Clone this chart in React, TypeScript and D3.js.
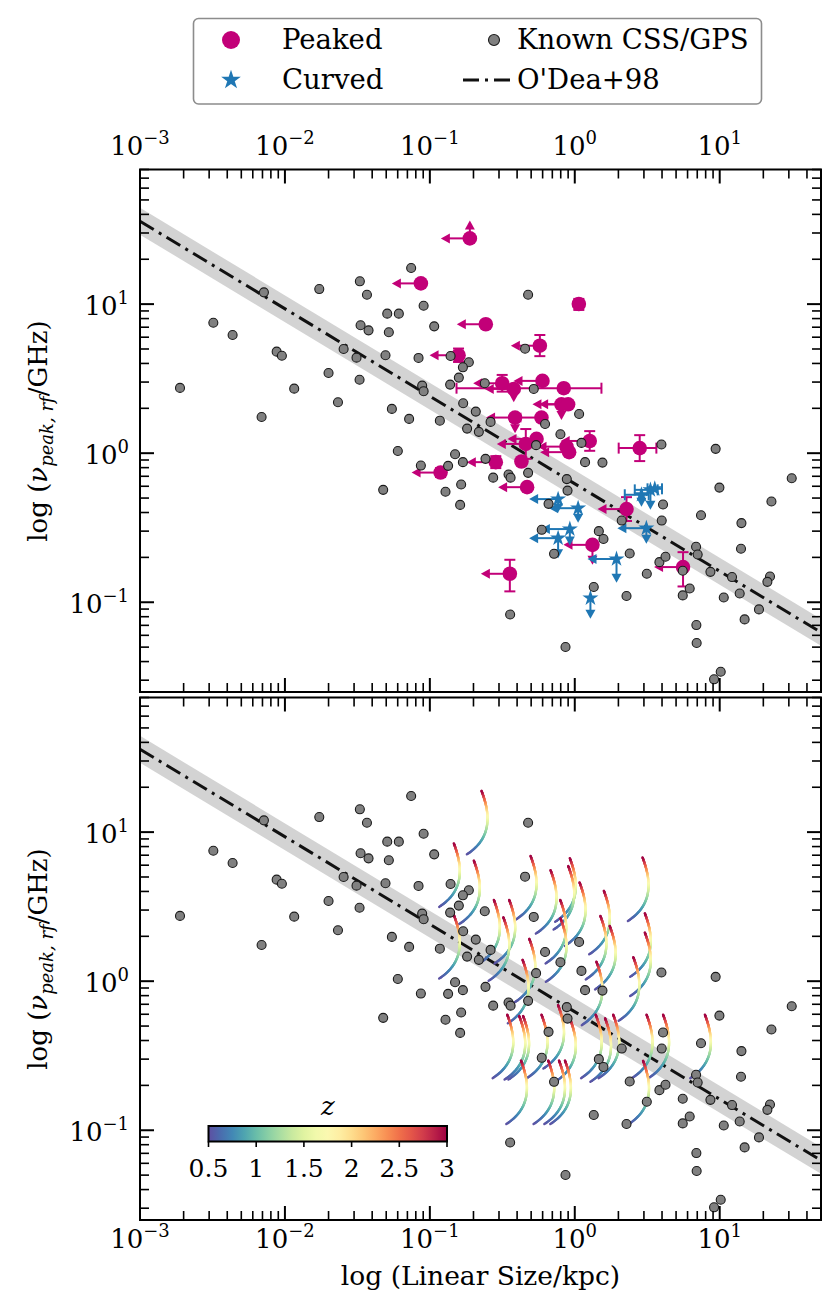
import React from 'react';
import * as d3 from 'd3';

// All positions are log10 values:
// log10(linear size / kpc) and log10(rest-frame peak frequency / GHz)

// Known CSS/GPS sources (same set in both panels)
const knownLogSize = [
  -2.724, -2.494, -2.361, -2.145, -2.161, -2.057, -2.021, -1.936, -1.763, -1.699,
  -1.634, -1.595, -1.506, -1.485, -1.483, -1.434, -1.478, -1.423, -1.306, -1.294,
  -1.214, -1.283, -1.129, -1.043, -0.97, -1.078, -1.262, -1.143, -1.053, -1.043,
  -1.221, -1.062, -1.322, -0.931, -0.857, -0.731, -0.772, -0.8, -0.86, -0.77,
  -0.683, -0.743, -0.662, -0.826, -0.874, -0.772, -0.784, -0.892, -0.791,
  -0.322, -0.343, -0.621, -0.283, -0.581, -0.205, 0.03, -0.099, -0.267, 0.046,
  -0.616, 0.071, 0.191, 0.598, 0.972, -0.563, -0.457, -0.443, -0.322, -0.055,
  -0.05, 1.497, 0.998, -0.181, 0.609, 0.871, 1.357, 0.324, 0.6, 1.15,
  -0.228, 0.166, 0.198, -0.143, 0.379, 0.837, 0.848, 1.147, 0.584, 0.626,
  0.497, 0.745, 0.936, 1.085, 1.347, 1.329, 0.131, 0.357, 0.745, 0.793,
  1.028, 1.138, 1.271, 1.172, -0.446, 0.839, 0.841, -0.064, 1.007, 0.961,
];
const knownLogFreq = [
  0.438, 0.875, 0.793, 1.079, 0.243, 0.681, 0.654, 0.433, 1.101, 0.538,
  0.342, 0.699, 0.641, 0.493, 1.153, 1.063, 0.858, 0.824, 0.657, 0.936,
  0.936, 0.811, 1.242, 0.989, 0.851, 0.639, 0.297, 0.23, 0.453, 0.416,
  0.015, -0.083, -0.246, 0.218, 0.652, 0.61, 0.576, 0.507, 0.46, 0.335,
  0.279, 0.165, 0.143, -0.007, -0.085, -0.06, -0.21, -0.259, -0.347,
  1.063, 0.701, 0.469, 0.431, 0.21, 0.196, 0.263, 0.127, 0.054, 0.069,
  -0.038, -0.06, -0.063, 0.058, 0.029, -0.164, -0.143, -0.164, -0.132, -0.174,
  -0.251, -0.168, -0.231, -0.34, -0.344, -0.416, -0.324, -0.452, -0.452, -0.469,
  -0.514, -0.523, -0.576, -0.675, -0.673, -0.628, -0.68, -0.641, -0.731, -0.695,
  -0.809, -0.789, -0.796, -0.831, -0.827, -0.863, -0.898, -0.958, -0.954, -0.908,
  -0.968, -0.941, -1.048, -1.115, -1.082, -1.153, -1.273, -1.3, -1.466, -1.517,
];

// Peaked sources
const peakedLogSize = [
  -0.724, -1.062, 0.028, -0.614, -0.241, -0.802, -0.501, -0.223, -0.076, -0.421,
  -0.092, -0.046, -0.412, -0.23, 0.103, 0.448, -0.264, -0.338, -0.057, -0.039,
  -0.368, -0.545, -0.926, -0.329, 0.357, 0.122, -0.448, 0.747,
];
const peakedLogFreq = [
  1.441, 1.139, 1.001, 0.865, 0.721, 0.657, 0.469, 0.485, 0.436, 0.431,
  0.328, 0.328, 0.239, 0.239, 0.082, 0.034, 0.096, 0.062, 0.044, 0.007,
  -0.056, -0.06, -0.13, -0.228, -0.375, -0.615, -0.809, -0.764,
];
// 1 = size is an upper limit (arrow to the left)
const peakedSizeLimit = [1, 1, 0, 1, 1, 1, 1, 1, 0, 1, 1, 1, 1, 1, 1, 0, 1, 1, 1, 1, 0, 1, 1, 1, 1, 1, 1, 1];
// frequency limit arrows in dex: > 0 lower limit (up), < 0 upper limit (down)
const peakedFreqArrow = [0.12, 0, 0, 0, 0, 0, 0, 0, 0, -0.09, -0.105, 0, -0.105, 0, 0, 0, 0, 0, 0, 0, 0, 0, 0, 0, 0, -0.134, 0, 0];
// [below, above] errors in dex
const peakedFreqErr: (number[] | null)[] = [
  null, null, [0.04, 0.034], null, [0.07, 0.072], [0.045, 0.045], [0.056, 0.056], null, null, null,
  null, null, null, null, [0.066, 0.066], [0.087, 0.087], null, [0.1, 0.1], null, null,
  null, [0.04, 0.04], [0.03, 0.03], null, [0.08, 0.08], null, [0.118, 0.094], [0.13, 0.1],
];
const peakedSizeErr: (number[] | null)[] = [
  null, null, null, null, null, null, null, null, [0.74, 0.26], null,
  null, null, null, null, null, [0.145, 0.115], null, null, null, null,
  null, null, null, null, null, null, null, null,
];

// Curved sources
const curvedLogSize = [-0.115, 0.023, -0.034, -0.115, 0.494, 0.288, 0.108, 0.46, 0.522, 0.552];
const curvedLogFreq = [-0.308, -0.369, -0.509, -0.57, -0.503, -0.71, -0.972, -0.279, -0.246, -0.239];
const curvedSizeLimit = [1, 1, 1, 1, 1, 1, 0, 0, 0, 0];
const curvedFreqArrow = [-0.09, -0.097, -0.11, -0.134, -0.105, -0.16, -0.139, -0.08, -0.134, 0];
const curvedSizeErr: (number[] | null)[] = [null, null, null, null, null, null, null, [0.115, 0.05], [0.108, 0.05], [0.05, 0.05]];

// Redshift tracks (bottom panel): angular size (mas) and observed peak frequency (GHz)
const trackTheta = [
  29.5, 26.1, 19.0, 19.0, 64.3, 120, 117, 88.3, 140, 206, 381, 35.9, 45.8, 41.7,
  103, 195, 226, 395, 395, 63, 56.6, 329, 183, 99.5, 44.4, 53.7, 57.1, 76.5, 120,
  181, 210, 239, 406, 528, 1026, 55.2, 85.1, 101, 111, 384, 103.5,
];
const trackNuObs = [
  4.73, 1.61, 2.1, 0.695, 1.73, 1.67, 1.48, 1.39, 1.15, 1.01, 1.69, 0.877, 0.877, 0.671,
  0.877, 0.685, 0.587, 0.714, 0.53, 0.481, 0.348, 0.362, 0.338, 0.173, 0.149, 0.146, 0.146, 0.149, 0.141,
  0.149, 0.141, 0.149, 0.149, 0.149, 0.149, 0.0734, 0.0734, 0.0734, 0.0734, 0.0731, 0.66,
];

const colorbarTicks = [0.5, 1, 1.5, 2, 2.5, 3];

// O'Dea+98 relation as drawn: log nu = a + b log LS, band half-width in dex
const odeaA = -0.205;
const odeaB = -0.587;
const odeaBand = 0.09;

const MAGENTA = '#c20078';
const BLUE = '#1f77b4';
const FONT = 'DejaVu Serif';
const DASH = '16,6,3,6';

const X_DOMAIN: [number, number] = [1e-3, 50];
const Y_DOMAIN: [number, number] = [0.025, 80];
const LEFT = 140;
const RIGHT = 821;

const x = d3.scaleLog().domain(X_DOMAIN).range([LEFT, RIGHT]);
const yTop = d3.scaleLog().domain(Y_DOMAIN).range([692, 169.5]);
const yBot = d3.scaleLog().domain(Y_DOMAIN).range([1220, 697.5]);

const zColor = d3.scaleSequential((t: number) => d3.interpolateSpectral(1 - t)).domain([0.5, 3]);

// flat LCDM, H0 = 70, Om = 0.3
const angDistMpc = (z: number) => {
  const n = 200;
  let s = 0;
  for (let i = 0; i <= n; i++) {
    const zi = (z * i) / n;
    const f = 1 / Math.sqrt(0.3 * (1 + zi) ** 3 + 0.7);
    s += (i === 0 || i === n ? 1 : i % 2 ? 4 : 2) * f;
  }
  return ((299792.458 / 70) * ((s * z) / (3 * n))) / (1 + z);
};
const kpcPerMas = (z: number) => (angDistMpc(z) * 1000 * Math.PI) / (180 * 3600 * 1000);

const logTicks = (lo: number, hi: number) => {
  const major: number[] = [];
  const minor: number[] = [];
  for (let e = Math.floor(Math.log10(lo)); e <= Math.ceil(Math.log10(hi)); e++) {
    for (let m = 1; m < 10; m++) {
      const v = m * Math.pow(10, e);
      if (v < lo * 0.999 || v > hi * 1.001) continue;
      (m === 1 ? major : minor).push(v);
    }
  }
  return { major, minor };
};

const sup = (v: number) => {
  const e = Math.round(Math.log10(v));
  return e < 0 ? `\u2212${-e}` : `${e}`;
};

type Pt = {
  lx: number;
  ly: number;
  sizeLim: number;
  freqArrow: number;
  freqErr: number[] | null;
  sizeErr: number[] | null;
};

const peaked: Pt[] = peakedLogSize.map((lx, i) => ({
  lx,
  ly: peakedLogFreq[i],
  sizeLim: peakedSizeLimit[i],
  freqArrow: peakedFreqArrow[i],
  freqErr: peakedFreqErr[i],
  sizeErr: peakedSizeErr[i],
}));

const curved: Pt[] = curvedLogSize.map((lx, i) => ({
  lx,
  ly: curvedLogFreq[i],
  sizeLim: curvedSizeLimit[i],
  freqArrow: curvedFreqArrow[i],
  freqErr: null,
  sizeErr: curvedSizeErr[i],
}));

const CAP = 5.5;

function errorMarks(p: Pt, y: d3.ScaleLogarithmic<number, number>, color: string, key: string) {
  const cx = x(10 ** p.lx);
  const cy = y(10 ** p.ly);
  const els: React.ReactNode[] = [];
  if (p.sizeErr) {
    const xa = x(10 ** (p.lx - p.sizeErr[0]));
    const xb = x(10 ** (p.lx + p.sizeErr[1]));
    els.push(<line key="xe" x1={xa} x2={xb} y1={cy} y2={cy} />);
    els.push(<line key="xc1" x1={xa} x2={xa} y1={cy - CAP} y2={cy + CAP} />);
    els.push(<line key="xc2" x1={xb} x2={xb} y1={cy - CAP} y2={cy + CAP} />);
  }
  if (p.freqErr) {
    const ya = y(10 ** (p.ly - p.freqErr[0]));
    const yb = y(10 ** (p.ly + p.freqErr[1]));
    els.push(<line key="ye" x1={cx} x2={cx} y1={ya} y2={yb} />);
    els.push(<line key="yc1" x1={cx - CAP} x2={cx + CAP} y1={ya} y2={ya} />);
    els.push(<line key="yc2" x1={cx - CAP} x2={cx + CAP} y1={yb} y2={yb} />);
  }
  if (p.sizeLim) {
    const xt = x(10 ** (p.lx - 0.2));
    els.push(<line key="xl" x1={cx} x2={xt + 3} y1={cy} y2={cy} />);
    els.push(<path key="xa" d={`M${xt},${cy}L${xt + 9},${cy - 5}L${xt + 9},${cy + 5}Z`} fill={color} stroke="none" />);
  }
  if (p.freqArrow) {
    const yt = y(10 ** (p.ly + p.freqArrow));
    const dir = p.freqArrow > 0 ? -1 : 1;
    els.push(<line key="yl" x1={cx} x2={cx} y1={cy} y2={yt - dir * 3} />);
    els.push(
      <path key="ya" d={`M${cx},${yt}L${cx - 5},${yt - dir * 9}L${cx + 5},${yt - dir * 9}Z`} fill={color} stroke="none" />
    );
  }
  return (
    <g key={key} stroke={color} strokeWidth={2} fill="none">
      {els}
    </g>
  );
}

const starPath = (size: number) => d3.symbol().type(d3.symbolStar).size(size)() as string;

function Frame({ y, labelTop, labelBottom }: { y: d3.ScaleLogarithmic<number, number>; labelTop: boolean; labelBottom: boolean }) {
  const [yb, yt] = y.range();
  const xt = logTicks(X_DOMAIN[0], X_DOMAIN[1]);
  const ytk = logTicks(Y_DOMAIN[0], Y_DOMAIN[1]);
  const MAJ = 14;
  const MIN = 9;
  return (
    <g stroke="#000">
      {xt.major.map((v) => (
        <g key={`xM${v}`} strokeWidth={2}>
          <line x1={x(v)} x2={x(v)} y1={yt} y2={yt + MAJ} />
          <line x1={x(v)} x2={x(v)} y1={yb} y2={yb - MAJ} />
        </g>
      ))}
      {xt.minor.map((v) => (
        <g key={`xm${v}`} strokeWidth={1.6}>
          <line x1={x(v)} x2={x(v)} y1={yt} y2={yt + MIN} />
          <line x1={x(v)} x2={x(v)} y1={yb} y2={yb - MIN} />
        </g>
      ))}
      {ytk.major.map((v) => (
        <g key={`yM${v}`} strokeWidth={2}>
          <line x1={LEFT} x2={LEFT + MAJ} y1={y(v)} y2={y(v)} />
          <line x1={RIGHT} x2={RIGHT - MAJ} y1={y(v)} y2={y(v)} />
        </g>
      ))}
      {ytk.minor.map((v) => (
        <g key={`ym${v}`} strokeWidth={1.6}>
          <line x1={LEFT} x2={LEFT + MIN} y1={y(v)} y2={y(v)} />
          <line x1={RIGHT} x2={RIGHT - MIN} y1={y(v)} y2={y(v)} />
        </g>
      ))}
      <rect x={LEFT} y={yt} width={RIGHT - LEFT} height={yb - yt} fill="none" strokeWidth={2} />
      <g stroke="none" fill="#000" fontFamily={FONT} fontSize={26}>
        {ytk.major.map((v) => (
          <text key={`yl${v}`} x={129} y={y(v) + 11} textAnchor="end">
            <tspan>10</tspan>
            <tspan dy={-11} fontSize={18}>
              {sup(v)}
            </tspan>
          </text>
        ))}
        {labelTop &&
          xt.major.map((v) => (
            <text key={`xt${v}`} x={x(v)} y={155} textAnchor="middle">
              <tspan>10</tspan>
              <tspan dy={-11} fontSize={18}>
                {sup(v)}
              </tspan>
            </text>
          ))}
        {labelBottom &&
          xt.major.map((v) => (
            <text key={`xb${v}`} x={x(v)} y={1248} textAnchor="middle">
              <tspan>10</tspan>
              <tspan dy={-11} fontSize={18}>
                {sup(v)}
              </tspan>
            </text>
          ))}
      </g>
    </g>
  );
}

function Relation({ y, clip }: { y: d3.ScaleLogarithmic<number, number>; clip: string }) {
  const xs = [X_DOMAIN[0], X_DOMAIN[1]];
  const f = (v: number, off: number) => y(10 ** (odeaA + odeaB * Math.log10(v) + off));
  const area = d3
    .area<number>()
    .x((v) => x(v))
    .y0((v) => f(v, -odeaBand))
    .y1((v) => f(v, odeaBand));
  const line = d3
    .line<number>()
    .x((v) => x(v))
    .y((v) => f(v, 0));
  return (
    <g clipPath={`url(#${clip})`}>
      <path d={area(xs) as string} fill="#d3d3d3" />
      <path d={line(xs) as string} fill="none" stroke="#111" strokeWidth={3} strokeDasharray={DASH} />
    </g>
  );
}

function KnownDots({ y }: { y: d3.ScaleLogarithmic<number, number> }) {
  return (
    <g fill="#808080" stroke="#1a1a1a" strokeWidth={1.1}>
      {knownLogSize.map((lx, i) => (
        <circle key={i} cx={x(10 ** lx)} cy={y(10 ** knownLogFreq[i])} r={4.5} />
      ))}
    </g>
  );
}

function Tracks() {
  const zs = d3.range(0.5, 3.0001, 0.025);
  const segs: React.ReactNode[] = [];
  const scale = zs.map((z) => kpcPerMas(z));
  trackTheta.forEach((th, k) => {
    const pts = zs.map((z, i) => [x(th * scale[i]), yBot(trackNuObs[k] * (1 + z))]);
    for (let i = 0; i < pts.length - 1; i++) {
      segs.push(
        <line
          key={`${k}-${i}`}
          x1={pts[i][0]}
          y1={pts[i][1]}
          x2={pts[i + 1][0]}
          y2={pts[i + 1][1]}
          stroke={zColor((zs[i] + zs[i + 1]) / 2)}
          strokeWidth={2.4}
          strokeLinecap="round"
        />
      );
    }
  });
  return <g>{segs}</g>;
}

function Colorbar() {
  const cb = d3.scaleLinear().domain([0.5, 3]).range([208.5, 447]);
  const stops = d3.range(0, 1.0001, 0.05);
  return (
    <g>
      <defs>
        <linearGradient id="cbar" x1="0" x2="1" y1="0" y2="0">
          {stops.map((t) => (
            <stop key={t} offset={t} stopColor={d3.interpolateSpectral(1 - t)} />
          ))}
        </linearGradient>
      </defs>
      <rect x={208.5} y={1126} width={447 - 208.5} height={15.5} fill="url(#cbar)" stroke="#000" strokeWidth={2} />
      {colorbarTicks.map((t) => (
        <g key={t}>
          <line x1={cb(t)} x2={cb(t)} y1={1141.5} y2={1147} stroke="#000" strokeWidth={1.6} />
          <text x={cb(t)} y={1177} textAnchor="middle" fontFamily={FONT} fontSize={25}>
            {t}
          </text>
        </g>
      ))}
      <text x={cb(1.75)} y={1115} textAnchor="middle" fontFamily={FONT} fontStyle="italic" fontSize={26}>
        z
      </text>
    </g>
  );
}

function YLabel({ cy }: { cy: number }) {
  return (
    <text transform={`translate(47,${cy}) rotate(-90)`} textAnchor="middle" fontFamily={FONT} fontSize={26}>
      <tspan>log (</tspan>
      <tspan fontStyle="italic">ν</tspan>
      <tspan fontStyle="italic" fontSize={18} dy={6}>
        peak, rf
      </tspan>
      <tspan dy={-6}>/GHz)</tspan>
    </text>
  );
}

function Legend() {
  return (
    <g fontFamily={FONT} fontSize={27.5}>
      <rect x={193.5} y={18.5} width={568} height={85.5} rx={5} fill="#fff" stroke="#8c8c8c" strokeWidth={1.6} />
      <circle cx={231} cy={40} r={9} fill={MAGENTA} />
      <text x={282} y={49}>Peaked</text>
      <path d={starPath(120)} transform="translate(231,80)" fill={BLUE} />
      <text x={282} y={89}>Curved</text>
      <circle cx={494} cy={40} r={5.5} fill="#808080" stroke="#1a1a1a" strokeWidth={1.1} />
      <text x={517} y={49}>Known CSS/GPS</text>
      <line x1={463} x2={510} y1={80} y2={80} stroke="#111" strokeWidth={3} strokeDasharray={DASH} />
      <text x={517} y={89}>O'Dea+98</text>
    </g>
  );
}

export default function App() {
  return (
    <svg width={830} height={1312} style={{ position: 'absolute', left: 0, top: 0, background: '#fff' }}>
      <defs>
        <clipPath id="clipTop">
          <rect x={LEFT} y={169.5} width={RIGHT - LEFT} height={692 - 169.5} />
        </clipPath>
        <clipPath id="clipBot">
          <rect x={LEFT} y={697.5} width={RIGHT - LEFT} height={1220 - 697.5} />
        </clipPath>
      </defs>
      <rect width={830} height={1312} fill="#fff" />

      {/* top panel */}
      <Relation y={yTop} clip="clipTop" />
      <g>{peaked.map((p, i) => errorMarks(p, yTop, MAGENTA, `pe${i}`))}</g>
      <g fill={MAGENTA}>
        {peaked.map((p, i) => (
          <circle key={i} cx={x(10 ** p.lx)} cy={yTop(10 ** p.ly)} r={7.3} />
        ))}
      </g>
      <g>{curved.map((p, i) => errorMarks(p, yTop, BLUE, `ce${i}`))}</g>
      <g fill={BLUE}>
        {curved.map((p, i) => (
          <path key={i} d={starPath(80)} transform={`translate(${x(10 ** p.lx)},${yTop(10 ** p.ly)})`} />
        ))}
      </g>
      <KnownDots y={yTop} />
      <Frame y={yTop} labelTop={true} labelBottom={false} />
      <YLabel cy={431} />

      {/* bottom panel */}
      <Relation y={yBot} clip="clipBot" />
      <g clipPath="url(#clipBot)">
        <Tracks />
      </g>
      <KnownDots y={yBot} />
      <Colorbar />
      <Frame y={yBot} labelTop={false} labelBottom={true} />
      <YLabel cy={959} />
      <text x={480.5} y={1285} textAnchor="middle" fontFamily={FONT} fontSize={26.5}>
        log (Linear Size/kpc)
      </text>

      <Legend />
    </svg>
  );
}
